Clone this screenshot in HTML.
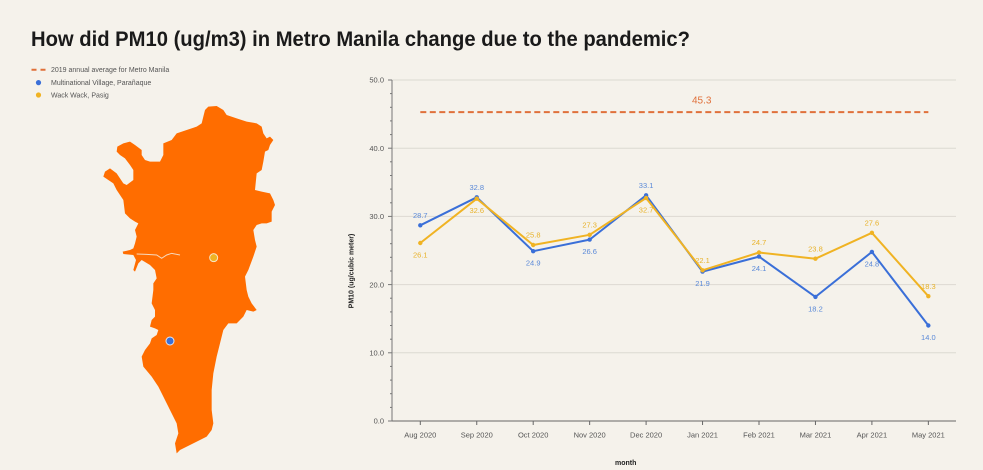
<!DOCTYPE html>
<html><head><meta charset="utf-8"><style>
html,body{margin:0;padding:0;background:#f5f2eb;}
svg{display:block;}
text{font-family:"Liberation Sans",Arial,sans-serif;}
</style></head><body>
<svg width="983" height="470" viewBox="0 0 983 470" xmlns="http://www.w3.org/2000/svg">
<rect width="983" height="470" fill="#f5f2eb"/>
<text x="31" y="46" font-size="21" font-weight="bold" fill="#1a1a1a" textLength="659" lengthAdjust="spacingAndGlyphs">How did PM10 (ug/m3) in Metro Manila change due to the pandemic?</text>

<!-- legend -->
<line x1="31.5" y1="69.7" x2="47" y2="69.7" stroke="#e0703a" stroke-width="2" stroke-dasharray="5,4"/>
<text x="51" y="72.2" font-size="7" fill="#555">2019 annual average for Metro Manila</text>
<circle cx="38.5" cy="82.6" r="2.6" fill="#3a6fd8"/>
<text x="51" y="85.1" font-size="7" fill="#555">Multinational Village, Parañaque</text>
<circle cx="38.5" cy="95" r="2.6" fill="#f0b323"/>
<text x="51" y="97.5" font-size="7" fill="#555">Wack Wack, Pasig</text>

<!-- map -->
<g transform="translate(80,90) scale(0.33333)">
<path fill="#ff6d00" d="M375,60 L385,50 L410,48 L430,60 L440,75 L470,85 L500,95 L530,100 L545,110 L550,130 L560,145 L570,140 L580,150 L570,165 L565,180 L555,185 L550,215 L545,240 L530,250 L525,300 L545,305 L570,310 L580,330 L585,345 L575,365 L575,395 L560,400 L545,400 L530,405 L520,420 L525,450 L530,470 L520,500 L505,540 L495,560 L500,600 L505,620 L515,640 L530,660 L520,665 L500,660 L490,680 L470,700 L445,700 L430,720 L420,760 L410,800 L400,850 L395,900 L395,960 L400,1000 L395,1020 L380,1040 L360,1050 L330,1065 L300,1080 L290,1090 L285,1060 L295,1030 L290,1000 L270,960 L250,920 L235,890 L215,860 L190,830 L185,800 L195,780 L210,760 L215,745 L230,735 L235,720 L225,715 L210,710 L215,690 L225,680 L225,660 L215,640 L220,600 L220,580 L230,565 L225,540 L210,525 L185,510 L175,520 L165,545 L160,540 L168,510 L160,495 L130,492 L128,485 L150,480 L160,475 L165,460 L170,440 L165,420 L175,400 L165,395 L150,385 L135,370 L130,330 L110,300 L100,280 L85,270 L70,260 L75,245 L90,235 L110,250 L130,280 L140,285 L160,270 L160,240 L150,225 L135,205 L120,195 L110,185 L112,170 L130,160 L150,155 L165,165 L185,180 L185,195 L195,210 L210,215 L240,215 L250,195 L250,160 L275,150 L290,130 L320,120 L350,110 L365,100 L370,80 Z"/>
<path d="M170,492 L200,493 L230,495 L245,505 L260,495 L275,490 L300,495" fill="none" stroke="#f7d9bd" stroke-width="3"/>
<circle cx="401" cy="503" r="12" fill="#f0b323" stroke="#f5e6c8" stroke-width="3"/>
<circle cx="270" cy="753" r="12" fill="#3a6fd8" stroke="#dfe6f5" stroke-width="3"/>
</g>

<!-- grid -->
<g stroke="#dcd9d2" stroke-width="1">
<line x1="392" y1="80" x2="956" y2="80"/>
<line x1="392" y1="148.2" x2="956" y2="148.2"/>
<line x1="392" y1="216.4" x2="956" y2="216.4"/>
<line x1="392" y1="284.6" x2="956" y2="284.6"/>
<line x1="392" y1="352.8" x2="956" y2="352.8"/>
</g>

<!-- y axis -->
<g stroke="#777" stroke-width="1">
<line x1="392" y1="80" x2="392" y2="421"/>
<line x1="388" y1="80" x2="392" y2="80"/>
<line x1="388" y1="148.2" x2="392" y2="148.2"/>
<line x1="388" y1="216.4" x2="392" y2="216.4"/>
<line x1="388" y1="284.6" x2="392" y2="284.6"/>
<line x1="388" y1="352.8" x2="392" y2="352.8"/>
<line x1="388" y1="421" x2="392" y2="421"/>
<line x1="390" y1="407.4" x2="392" y2="407.4"/>
<line x1="390" y1="393.7" x2="392" y2="393.7"/>
<line x1="390" y1="380.1" x2="392" y2="380.1"/>
<line x1="390" y1="366.4" x2="392" y2="366.4"/>
<line x1="390" y1="339.2" x2="392" y2="339.2"/>
<line x1="390" y1="325.5" x2="392" y2="325.5"/>
<line x1="390" y1="311.9" x2="392" y2="311.9"/>
<line x1="390" y1="298.2" x2="392" y2="298.2"/>
<line x1="390" y1="271.0" x2="392" y2="271.0"/>
<line x1="390" y1="257.3" x2="392" y2="257.3"/>
<line x1="390" y1="243.7" x2="392" y2="243.7"/>
<line x1="390" y1="230.0" x2="392" y2="230.0"/>
<line x1="390" y1="202.8" x2="392" y2="202.8"/>
<line x1="390" y1="189.1" x2="392" y2="189.1"/>
<line x1="390" y1="175.5" x2="392" y2="175.5"/>
<line x1="390" y1="161.8" x2="392" y2="161.8"/>
<line x1="390" y1="134.6" x2="392" y2="134.6"/>
<line x1="390" y1="120.9" x2="392" y2="120.9"/>
<line x1="390" y1="107.3" x2="392" y2="107.3"/>
<line x1="390" y1="93.6" x2="392" y2="93.6"/>
</g>
<g font-size="7.5" fill="#555" text-anchor="end">
<text x="384" y="82.7">50.0</text>
<text x="384" y="150.9">40.0</text>
<text x="384" y="219.1">30.0</text>
<text x="384" y="287.3">20.0</text>
<text x="384" y="355.5">10.0</text>
<text x="384" y="423.7">0.0</text>
</g>
<text transform="translate(353.5,271) rotate(-90)" font-size="7" font-weight="bold" fill="#222" text-anchor="middle">PM10 (ug/cubic meter)</text>

<!-- x axis -->
<g stroke="#666" stroke-width="1">
<line x1="392" y1="421" x2="956" y2="421"/>
<line x1="420.3" y1="421" x2="420.3" y2="425"/>
<line x1="476.75" y1="421" x2="476.75" y2="425"/>
<line x1="533.2" y1="421" x2="533.2" y2="425"/>
<line x1="589.65" y1="421" x2="589.65" y2="425"/>
<line x1="646.1" y1="421" x2="646.1" y2="425"/>
<line x1="702.55" y1="421" x2="702.55" y2="425"/>
<line x1="759" y1="421" x2="759" y2="425"/>
<line x1="815.45" y1="421" x2="815.45" y2="425"/>
<line x1="871.9" y1="421" x2="871.9" y2="425"/>
<line x1="928.35" y1="421" x2="928.35" y2="425"/>
</g>
<g font-size="7.5" fill="#555" text-anchor="middle">
<text x="420.3" y="437.5">Aug 2020</text>
<text x="476.75" y="437.5">Sep 2020</text>
<text x="533.2" y="437.5">Oct 2020</text>
<text x="589.65" y="437.5">Nov 2020</text>
<text x="646.1" y="437.5">Dec 2020</text>
<text x="702.55" y="437.5">Jan 2021</text>
<text x="759" y="437.5">Feb 2021</text>
<text x="815.45" y="437.5">Mar 2021</text>
<text x="871.9" y="437.5">Apr 2021</text>
<text x="928.35" y="437.5">May 2021</text>
</g>
<text x="625.7" y="465" font-size="7" font-weight="bold" fill="#222" text-anchor="middle">month</text>

<!-- reference line -->
<line x1="420.3" y1="112.1" x2="928.35" y2="112.1" stroke="#e0703a" stroke-width="2" stroke-dasharray="6,3.5"/>
<text x="701.7" y="103.5" font-size="10" fill="#e0703a" text-anchor="middle">45.3</text>

<!-- blue series -->
<polyline fill="none" stroke="#3a6fd8" stroke-width="2" stroke-linejoin="round" points="420.3,225.3 476.75,197.3 533.2,251.2 589.65,239.6 646.1,195.3 702.55,271.6 759,256.6 815.45,296.9 871.9,251.9 928.35,325.5"/>
<g fill="#3a6fd8">
<circle cx="420.3" cy="225.3" r="2.2"/><circle cx="476.75" cy="197.3" r="2.2"/><circle cx="533.2" cy="251.2" r="2.2"/><circle cx="589.65" cy="239.6" r="2.2"/><circle cx="646.1" cy="195.3" r="2.2"/><circle cx="702.55" cy="271.6" r="2.2"/><circle cx="759" cy="256.6" r="2.2"/><circle cx="815.45" cy="296.9" r="2.2"/><circle cx="871.9" cy="251.9" r="2.2"/><circle cx="928.35" cy="325.5" r="2.2"/>
</g>
<!-- yellow series -->
<polyline fill="none" stroke="#f0b323" stroke-width="2" stroke-linejoin="round" points="420.3,243 476.75,198.7 533.2,245 589.65,234.8 646.1,198 702.55,270.3 759,252.5 815.45,258.7 871.9,232.8 928.35,296.2"/>
<g fill="#f0b323">
<circle cx="420.3" cy="243" r="2.2"/><circle cx="476.75" cy="198.7" r="2.2"/><circle cx="533.2" cy="245" r="2.2"/><circle cx="589.65" cy="234.8" r="2.2"/><circle cx="646.1" cy="198" r="2.2"/><circle cx="702.55" cy="270.3" r="2.2"/><circle cx="759" cy="252.5" r="2.2"/><circle cx="815.45" cy="258.7" r="2.2"/><circle cx="871.9" cy="232.8" r="2.2"/><circle cx="928.35" cy="296.2" r="2.2"/>
</g>

<!-- blue labels -->
<g font-size="7.5" fill="#5a89d8" text-anchor="middle">
<text x="420.3" y="218">28.7</text>
<text x="476.75" y="190">32.8</text>
<text x="533.2" y="265.7">24.9</text>
<text x="589.65" y="254.1">26.6</text>
<text x="646.1" y="188">33.1</text>
<text x="702.55" y="286.1">21.9</text>
<text x="759" y="271.1">24.1</text>
<text x="815.45" y="311.4">18.2</text>
<text x="871.9" y="266.4">24.8</text>
<text x="928.35" y="340">14.0</text>
</g>
<!-- yellow labels -->
<g font-size="7.5" fill="#e8b22a" text-anchor="middle">
<text x="420.3" y="257.5">26.1</text>
<text x="476.75" y="213.2">32.6</text>
<text x="533.2" y="237.7">25.8</text>
<text x="589.65" y="227.5">27.3</text>
<text x="646.1" y="212.5">32.7</text>
<text x="702.55" y="263">22.1</text>
<text x="759" y="245.2">24.7</text>
<text x="815.45" y="251.4">23.8</text>
<text x="871.9" y="225.5">27.6</text>
<text x="928.35" y="288.9">18.3</text>
</g>
</svg>
</body></html>
